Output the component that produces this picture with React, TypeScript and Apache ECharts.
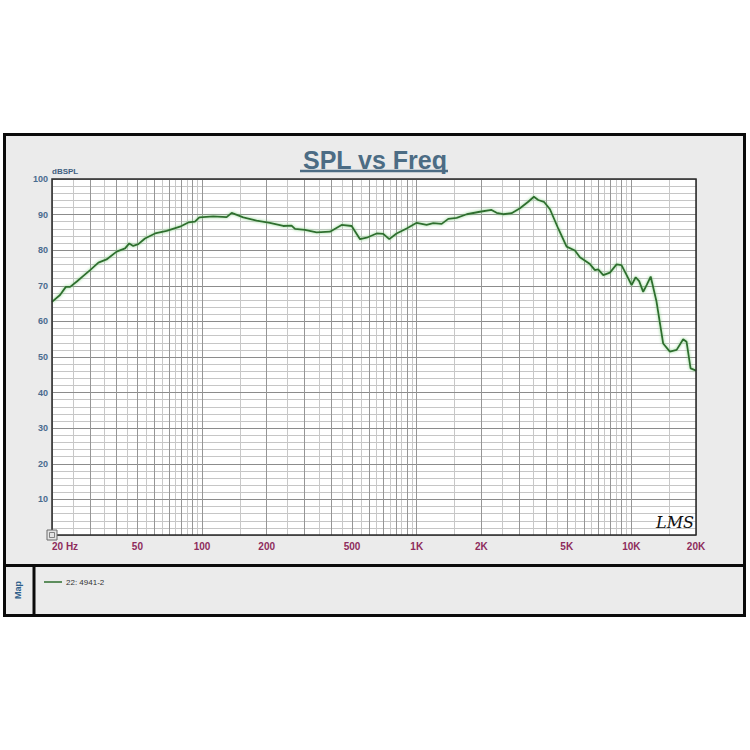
import React, { useEffect, useRef } from 'react';
import * as echarts from 'echarts';

// Frequency (Hz) and SPL (dB)
const FREQ_HZ = [
  20, 21.8, 23.2, 24.3, 26.1, 28, 30.1, 32.9, 35.9, 40,
  43.8, 45.8, 47.8, 50.5, 54.2, 60.4, 68.4, 78.9, 86.3, 92.7,
  97.1, 112.8, 130.2, 137.4, 155.6, 179.6, 207, 238.9, 261.3, 271,
  301.5, 341.7, 394.4, 446.9, 497.6, 544.5, 584.7, 650.7, 698.6, 745,
  806, 897.5, 1000, 1112, 1194, 1307, 1403, 1535, 1710, 1969,
  2232, 2355, 2529, 2767, 3027, 3307, 3515, 3682, 3914, 4176,
  4563, 4991, 5458, 5757, 6411, 6763, 7003, 7396, 7943, 8532,
  8994, 9506, 10024, 10470, 10870, 11350, 11776, 12300, 13100, 14060,
  15110, 16250, 17430, 18070, 18870, 19770, 20000,
];
const SPL_DB = [
  65.5, 67.4, 69.7, 69.7, 71.2, 72.8, 74.4, 76.5, 77.4, 79.6,
  80.5, 81.9, 81.2, 81.7, 83.3, 84.7, 85.4, 86.6, 87.8, 88.0,
  89.2, 89.5, 89.3, 90.5, 89.2, 88.3, 87.7, 86.8, 86.9, 86.0,
  85.7, 85.0, 85.2, 87.1, 86.8, 83.1, 83.5, 84.7, 84.6, 83.1,
  84.7, 86.1, 87.7, 87.1, 87.6, 87.4, 88.8, 89.1, 90.1, 90.8,
  91.3, 90.5, 90.1, 90.4, 91.8, 93.6, 95.0, 94.1, 93.6, 91.5,
  86.1, 81.0, 79.9, 78.0, 76.1, 74.4, 74.6, 73.0, 73.7, 76.0,
  75.8, 73.0, 70.2, 72.4, 71.3, 68.3, 70.2, 72.6, 65.5, 53.8,
  51.5, 52.0, 55.0, 54.3, 46.8, 46.3, 46.2,
];
const SERIES_NAME = '22: 4941-2';

const X_LABEL_VALUES = [20, 50, 100, 200, 500, 1000, 2000, 5000, 10000, 20000];
const X_MAJOR_LINES = [
  20, 30, 40, 50, 60, 70, 80, 90,
  100, 200, 300, 400, 500, 600, 700, 800, 900,
  1000, 2000, 3000, 4000, 5000, 6000, 7000, 8000, 9000,
  10000, 20000,
];
const X_MINOR_LINES = [
  25, 35, 45, 55, 65, 75, 85, 95,
  150, 250, 350, 450, 550, 650, 750, 850, 950,
  1500, 2500, 3500, 4500, 5500, 6500, 7500, 8500, 9500,
  15000,
];
const Y_MIN = 0;
const Y_MAX = 100;
const Y_MAJOR_STEP = 10;
const Y_MINOR_STEP = 2;

const FONT = "'Liberation Sans', Arial, sans-serif";
const CURVE_COLOR = '#2e6e2e';
const TITLE_COLOR = '#4c6c84';

export default function App() {
  const ref = useRef<HTMLDivElement>(null);

  useEffect(() => {
    if (!ref.current) return;
    const chart = echarts.init(ref.current, undefined, { renderer: 'svg' });

    const fmtFreq = (v: number) => {
      const r = Math.round(v);
      if (r === 20) return '20 Hz';
      if (r >= 1000) return r / 1000 + 'K';
      return String(r);
    };

    const option: any = {
      animation: false,
      backgroundColor: '#ffffff',
      textStyle: { fontFamily: FONT },
      title: {
        text: 'SPL vs Freq',
        left: 'center',
        top: 142,
        textStyle: { fontSize: 25, fontWeight: 'bold', color: TITLE_COLOR, fontFamily: FONT },
      },
      legend: {
        data: [{ name: SERIES_NAME, icon: 'rect' }],
        left: 39,
        top: 573,
        itemWidth: 18,
        itemHeight: 1.5,
        itemGap: 4,
        selectedMode: false,
        textStyle: { fontSize: 8, color: '#333', fontFamily: FONT, padding: [0, 0, 0, -1] },
      },
      grid: {
        left: 52,
        top: 179,
        right: 54,
        bottom: 215,
        show: true,
        backgroundColor: '#ffffff',
        borderWidth: 0,
        z: 0,
      },
      xAxis: [
        {
          type: 'log',
          logBase: 10,
          min: 20,
          max: 20000,
          position: 'bottom',
          z: 2,
          axisLine: { show: false },
          axisTick: { show: false, customValues: X_MAJOR_LINES },
          axisLabel: {
            customValues: X_LABEL_VALUES,
            formatter: fmtFreq,
            color: '#8e2c5c',
            fontWeight: 'bold',
            fontSize: 10,
            margin: 6,
            alignMinLabel: 'left',
            fontFamily: FONT,
          },
          splitLine: { show: true, lineStyle: { color: '#969696', width: 1 } },
        },
        {
          type: 'log',
          logBase: 10,
          min: 20,
          max: 20000,
          position: 'top',
          z: 1,
          axisLine: { show: false },
          axisTick: { show: false, customValues: X_MINOR_LINES },
          axisLabel: { show: false, customValues: X_MINOR_LINES },
          splitLine: { show: true, lineStyle: { color: '#c8c8c8', width: 1 } },
        },
      ],
      yAxis: [
        {
          type: 'value',
          min: Y_MIN,
          max: Y_MAX,
          interval: Y_MAJOR_STEP,
          z: 2,
          axisLine: { show: false },
          axisTick: { show: false },
          axisLabel: {
            formatter: (v: number) => (v === 0 ? '' : String(v)),
            color: '#4a6b8f',
            fontWeight: 'bold',
            fontSize: 9,
            margin: 4,
            fontFamily: FONT,
          },
          splitLine: { show: true, lineStyle: { color: '#8c8c8c', width: 1 } },
        },
        {
          type: 'value',
          min: Y_MIN,
          max: Y_MAX,
          interval: Y_MINOR_STEP,
          z: 1,
          position: 'right',
          axisLine: { show: false },
          axisTick: { show: false },
          axisLabel: { show: false },
          splitLine: { show: true, lineStyle: { color: '#c6c6c6', width: 1 } },
        },
      ],
      series: [
        {
          name: SERIES_NAME,
          type: 'line',
          xAxisIndex: 0,
          yAxisIndex: 0,
          z: 5,
          color: CURVE_COLOR,
          symbol: 'none',
          showSymbol: false,
          smooth: false,
          data: FREQ_HZ.map((f, i) => [f, SPL_DB[i]]),
          lineStyle: {
            color: CURVE_COLOR,
            width: 1.8,
            shadowColor: 'rgba(120, 205, 120, 0.9)',
            shadowBlur: 3,
          },
        },
      ],
      graphic: [
        // panel background and frame
        {
          type: 'rect',
          z: -10,
          shape: { x: 4.5, y: 134.5, width: 740, height: 481 },
          style: { fill: '#ebebeb', stroke: '#0a0a0a', lineWidth: 3 },
        },
        {
          type: 'line',
          z: 10,
          shape: { x1: 3, y1: 565.5, x2: 746, y2: 565.5 },
          style: { stroke: '#0a0a0a', lineWidth: 3 },
        },
        {
          type: 'line',
          z: 10,
          shape: { x1: 34, y1: 565, x2: 34, y2: 616 },
          style: { stroke: '#0a0a0a', lineWidth: 3 },
        },
        // plot border
        {
          type: 'rect',
          z: 10,
          shape: { x: 52, y: 179, width: 644, height: 356 },
          style: { fill: 'none', stroke: '#2a2a2a', lineWidth: 1.5 },
        },
        // title underline
        {
          type: 'line',
          z: 10,
          shape: { x1: 300, y1: 171, x2: 448, y2: 171 },
          style: { stroke: TITLE_COLOR, lineWidth: 2.5 },
        },
        // y-axis unit
        {
          type: 'text',
          z: 10,
          x: 52,
          y: 171,
          style: {
            text: 'dBSPL',
            fill: '#3f5f80',
            font: `bold 8px ${FONT}`,
            verticalAlign: 'middle',
            align: 'left',
          },
        },
        // "Map" side label
        {
          type: 'text',
          z: 10,
          x: 18,
          y: 590,
          rotation: Math.PI / 2,
          style: {
            text: 'Map',
            fill: '#2f5f8a',
            font: `bold 9px ${FONT}`,
            verticalAlign: 'middle',
            align: 'center',
          },
        },
        // small corner icon
        {
          type: 'rect',
          z: 11,
          shape: { x: 47, y: 530, width: 10, height: 10 },
          style: { fill: '#e4e4e4', stroke: '#6a6a6a', lineWidth: 1 },
        },
        {
          type: 'rect',
          z: 12,
          shape: { x: 49.5, y: 532.5, width: 5, height: 5 },
          style: { fill: 'none', stroke: '#6a6a6a', lineWidth: 0.8 },
        },
        // LMS logo
        {
          type: 'text',
          z: 10,
          x: 656,
          y: 522,
          style: {
            text: 'LMS',
            fill: '#111',
            font: `italic 16px 'DejaVu Serif', serif`,
            verticalAlign: 'middle',
            align: 'left',
          },
        },
      ],
    };

    chart.setOption(option);
    return () => chart.dispose();
  }, []);

  return (
    <div
      ref={ref}
      style={{ position: 'fixed', left: 0, top: 0, width: 750, height: 750 }}
    />
  );
}
